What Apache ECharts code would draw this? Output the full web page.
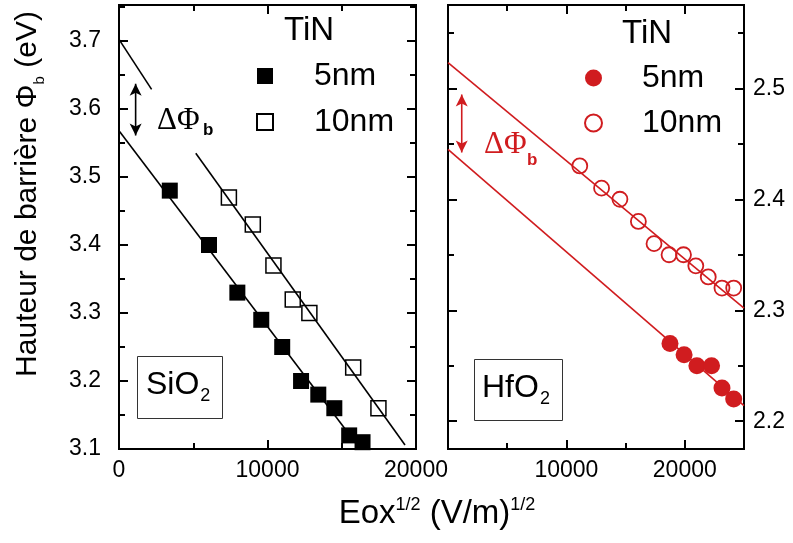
<!DOCTYPE html>
<html>
<head>
<meta charset="utf-8">
<script src="https://cdn.jsdelivr.net/npm/echarts@6/dist/echarts.min.js"></script>
<style>html,body{margin:0;padding:0;background:#fff}#c{width:793px;height:543px}</style>
</head>
<body>
<div id="c"></div>
<script>
// ---------- data ----------
const sio2_5nm_x = [3420, 6060, 7970, 9580, 10990, 12260, 13420, 14500, 15500, 16400];
const sio2_5nm_y = [3.48, 3.40, 3.33, 3.29, 3.25, 3.20, 3.18, 3.16, 3.12, 3.11];
const sio2_10nm_x = [7400, 9010, 10400, 11700, 12820, 15770, 17470];
const sio2_10nm_y = [3.47, 3.43, 3.37, 3.32, 3.30, 3.22, 3.16];
const hfo2_5nm_x = [18750, 19940, 21020, 22260, 23140, 24130];
const hfo2_5nm_y = [2.27, 2.26, 2.25, 2.25, 2.23, 2.22];
const hfo2_10nm_x = [11130, 12970, 14520, 16080, 17400, 18670, 19890, 20930, 21980, 23140, 24130];
const hfo2_10nm_y = [2.43, 2.41, 2.40, 2.38, 2.36, 2.35, 2.35, 2.34, 2.33, 2.32, 2.32];

// fitted lines (end points)
const sio2_fit5_x = [0, 16250];     const sio2_fit5_y = [3.568, 3.1];
const sio2_fit10_x = [5170, 19260]; const sio2_fit10_y = [3.535, 3.106];
const sio2_ext10_x = [0, 2195];     const sio2_ext10_y = [3.7025, 3.629];
const hfo2_fit5_x = [0, 25000];     const hfo2_fit5_y = [2.445, 2.214];
const hfo2_fit10_x = [0, 25000];    const hfo2_fit10_y = [2.523, 2.302];

// delta-phi double arrows (centres of the two arrow heads)
const sio2_arrow_x = [1120, 1120]; const sio2_arrow_y = [3.637, 3.561];
const hfo2_arrow_x = [1160, 1160]; const hfo2_arrow_y = [2.4943, 2.4421];

// ticks
const sio2_x_major = [0, 10000, 20000];
const sio2_x_minor = [5000, 15000];
const sio2_x_labels = [0, 10000, 20000];
const sio2_y_major = [3.1, 3.2, 3.3, 3.4, 3.5, 3.6, 3.7];
const sio2_y_minor = [3.15, 3.25, 3.35, 3.45, 3.55, 3.65, 3.75];
const hfo2_x_major = [0, 10000, 20000];
const hfo2_x_minor = [5000, 15000];
const hfo2_x_labels = [10000, 20000];
const hfo2_y_major = [2.2, 2.3, 2.4, 2.5];
const hfo2_y_minor = [2.25, 2.35, 2.45, 2.55];

const series_names = ['SiO2 5nm', 'SiO2 10nm', 'HfO2 5nm', 'HfO2 10nm'];

// ---------- styling ----------
const RED = '#d01c1f';
const SANS = '"Liberation Sans", Arial, Helvetica, sans-serif';
const SERIF = '"Liberation Serif", "Times New Roman", serif';

const pairs = (xs, ys) => xs.map((x, i) => [x, ys[i]]);

function mkAxis(grid, pos, min, max, ticks, tickLen, labels, fmt, margin) {
  return {
    type: 'value', gridIndex: grid, position: pos, min: min, max: max, scale: true,
    axisLine: {show: true, onZero: false, lineStyle: {color: '#000', width: 2}},
    axisTick: {show: true, inside: true, length: tickLen, customValues: ticks,
               lineStyle: {color: '#000', width: 2}},
    axisLabel: labels ? {show: true, customValues: labels, formatter: fmt, margin: margin,
               color: '#000', fontSize: 23, fontFamily: SANS} : {show: false},
    splitLine: {show: false}, minorTick: {show: false}
  };
}
const fx = v => String(Math.round(v));
const fy = v => v.toFixed(1);

const X0 = [0, 20000], Y0 = [3.1, 3.753];
const X1 = [0, 25000], Y1 = [2.175, 2.575];

const xAxis = [
  mkAxis(0, 'bottom', X0[0], X0[1], sio2_x_major, 9, sio2_x_labels, fx, 10),
  mkAxis(0, 'bottom', X0[0], X0[1], sio2_x_minor, 6, null),
  mkAxis(0, 'top', X0[0], X0[1], sio2_x_major, 9, null),
  mkAxis(0, 'top', X0[0], X0[1], sio2_x_minor, 6, null),
  mkAxis(1, 'bottom', X1[0], X1[1], hfo2_x_major, 9, hfo2_x_labels, fx, 10),
  mkAxis(1, 'bottom', X1[0], X1[1], hfo2_x_minor, 6, null),
  mkAxis(1, 'top', X1[0], X1[1], hfo2_x_major, 9, null),
  mkAxis(1, 'top', X1[0], X1[1], hfo2_x_minor, 6, null)
];
const yAxis = [
  mkAxis(0, 'left', Y0[0], Y0[1], sio2_y_major, 9, sio2_y_major, fy, 18),
  mkAxis(0, 'left', Y0[0], Y0[1], sio2_y_minor, 6, null),
  mkAxis(0, 'right', Y0[0], Y0[1], sio2_y_major, 9, null),
  mkAxis(0, 'right', Y0[0], Y0[1], sio2_y_minor, 6, null),
  mkAxis(1, 'right', Y1[0], Y1[1], hfo2_y_major, 9, hfo2_y_major, fy, 9),
  mkAxis(1, 'right', Y1[0], Y1[1], hfo2_y_minor, 6, null),
  mkAxis(1, 'left', Y1[0], Y1[1], hfo2_y_major, 9, null),
  mkAxis(1, 'left', Y1[0], Y1[1], hfo2_y_minor, 6, null)
];

function fitLine(xs, ys, color, xi, yi) {
  return {
    type: 'line', xAxisIndex: xi, yAxisIndex: yi, data: pairs(xs, ys),
    showSymbol: false, symbol: 'none', silent: true, z: 2,
    lineStyle: {color: color, width: 1.6}
  };
}
// vertical double arrow: arrow symbols at both ends, bottom one turned over
function arrowSeries(xs, ys, color, xi, yi) {
  return {
    type: 'line', xAxisIndex: xi, yAxisIndex: yi, silent: true, z: 3,
    symbol: 'arrow', symbolSize: [9, 12], showSymbol: true, showAllSymbol: true,
    itemStyle: {color: color, opacity: 1}, lineStyle: {color: color, width: 1.6},
    data: [{value: [xs[0], ys[0]], symbolRotate: 0}, {value: [xs[1], ys[1]], symbolRotate: 180}]
  };
}

const series = [
  fitLine(sio2_fit5_x, sio2_fit5_y, '#000', 0, 0),
  fitLine(sio2_fit10_x, sio2_fit10_y, '#000', 0, 0),
  fitLine(sio2_ext10_x, sio2_ext10_y, '#000', 0, 0),
  arrowSeries(sio2_arrow_x, sio2_arrow_y, '#000', 0, 0),
  fitLine(hfo2_fit5_x, hfo2_fit5_y, RED, 4, 4),
  fitLine(hfo2_fit10_x, hfo2_fit10_y, RED, 4, 4),
  arrowSeries(hfo2_arrow_x, hfo2_arrow_y, RED, 4, 4),
  {name: series_names[0], type: 'scatter', xAxisIndex: 0, yAxisIndex: 0, z: 5,
   symbol: 'rect', symbolSize: 16, itemStyle: {color: '#000', opacity: 1},
   data: pairs(sio2_5nm_x, sio2_5nm_y)},
  {name: series_names[1], type: 'scatter', xAxisIndex: 0, yAxisIndex: 0, z: 5,
   symbol: 'rect', symbolSize: 15,
   itemStyle: {color: 'rgba(255,255,255,0)', borderColor: '#000', borderWidth: 1.5, opacity: 1},
   data: pairs(sio2_10nm_x, sio2_10nm_y)},
  {name: series_names[2], type: 'scatter', xAxisIndex: 4, yAxisIndex: 4, z: 5,
   symbol: 'circle', symbolSize: 17, itemStyle: {color: RED, opacity: 1},
   data: pairs(hfo2_5nm_x, hfo2_5nm_y)},
  {name: series_names[3], type: 'scatter', xAxisIndex: 4, yAxisIndex: 4, z: 5,
   symbol: 'circle', symbolSize: 15,
   itemStyle: {color: 'rgba(255,255,255,0)', borderColor: RED, borderWidth: 1.8, opacity: 1},
   data: pairs(hfo2_10nm_x, hfo2_10nm_y)}
];

const legendText = {fontSize: 32, fontFamily: SANS, color: '#000', lineHeight: 28, padding: [0, 0, 0, 36]};
const legends = [
  {left: 256, top: 60, orient: 'vertical', itemWidth: 16, itemHeight: 16, itemGap: 14, padding: 0,
   selectedMode: false, formatter: n => n.split(' ')[1], textStyle: legendText,
   data: [{name: series_names[0], icon: 'rect'}, {name: series_names[1], icon: 'rect'}]},
  {left: 584, top: 62, orient: 'vertical', itemWidth: 17, itemHeight: 17, itemGap: 13, padding: 0,
   selectedMode: false, formatter: n => n.split(' ')[1],
   textStyle: Object.assign({}, legendText, {padding: [0, 0, 0, 35]}),
   data: [{name: series_names[2], icon: 'circle'}, {name: series_names[3], icon: 'circle'}]}
];

function txt(x, y, text, font, color) {
  return {type: 'text', x: x, y: y, silent: true, z: 50,
    style: {text: text, font: font, fill: color || '#000', textAlign: 'left', textVerticalAlign: 'middle'}};
}
const boxRich = {
  t: {fontSize: 32, fontFamily: SANS, fill: '#000', lineHeight: 36, verticalAlign: 'top'},
  s: {fontSize: 18, fontFamily: SANS, fill: '#000', lineHeight: 18, verticalAlign: 'bottom', padding: [0, 0, 0, 1]}
};

const graphic = [
  // legend headers
  txt(284, 31, 'TiN', '33px ' + SANS),
  txt(622, 34, 'TiN', '33px ' + SANS),
  // delta phi labels
  txt(157, 121, 'ΔΦ', '31px ' + SERIF),
  txt(203, 130, 'b', 'bold 17px ' + SANS),
  txt(484, 145, 'ΔΦ', '31px ' + SERIF, RED),
  txt(527, 160, 'b', 'bold 17px ' + SANS, RED),
  // material boxes
  {type: 'rect', shape: {x: 137.5, y: 356.5, width: 85, height: 62}, silent: true, z: 40,
   style: {fill: '#fff', stroke: '#333', lineWidth: 1}},
  {type: 'text', x: 146, y: 387, silent: true, z: 50,
   style: {text: '{t|SiO}{s|2}', textVerticalAlign: 'middle', rich: boxRich}},
  {type: 'rect', shape: {x: 474.5, y: 359.5, width: 88, height: 61}, silent: true, z: 40,
   style: {fill: '#fff', stroke: '#333', lineWidth: 1}},
  {type: 'text', x: 482, y: 390, silent: true, z: 50,
   style: {text: '{t|HfO}{s|2}', textVerticalAlign: 'middle', rich: boxRich}},
  // axis titles
  {type: 'text', x: 437, y: 513, silent: true, z: 50,
   style: {text: '{t|Eox}{s|1/2}{t| (V/m)}{s|1/2}', textAlign: 'center', textVerticalAlign: 'middle',
     rich: {t: {fontSize: 33, fontFamily: SANS, fill: '#000', lineHeight: 34, verticalAlign: 'bottom'},
            s: {fontSize: 18, fontFamily: SANS, fill: '#000', lineHeight: 18, verticalAlign: 'top'}}}},
  {type: 'text', x: 30, y: 194, rotation: Math.PI / 2, silent: true, z: 50,
   style: {text: '{t|Hauteur de barrière Φ}{s|b}{t| (eV)}', textAlign: 'center', textVerticalAlign: 'middle',
     rich: {t: {fontSize: 30, fontFamily: SANS, fill: '#000', lineHeight: 34, verticalAlign: 'top'},
            s: {fontSize: 15, fontFamily: SANS, fill: '#000', lineHeight: 15, verticalAlign: 'bottom'}}}}
];

const chart = echarts.init(document.getElementById('c'), null, {renderer: 'canvas'});
chart.setOption({
  animation: false,
  backgroundColor: '#fff',
  grid: [
    {left: 119, top: 5, width: 297, height: 444, containLabel: false},
    {left: 448, top: 5, width: 296, height: 444, containLabel: false}
  ],
  xAxis: xAxis, yAxis: yAxis, legend: legends, series: series, graphic: graphic
});
</script>
</body>
</html>
